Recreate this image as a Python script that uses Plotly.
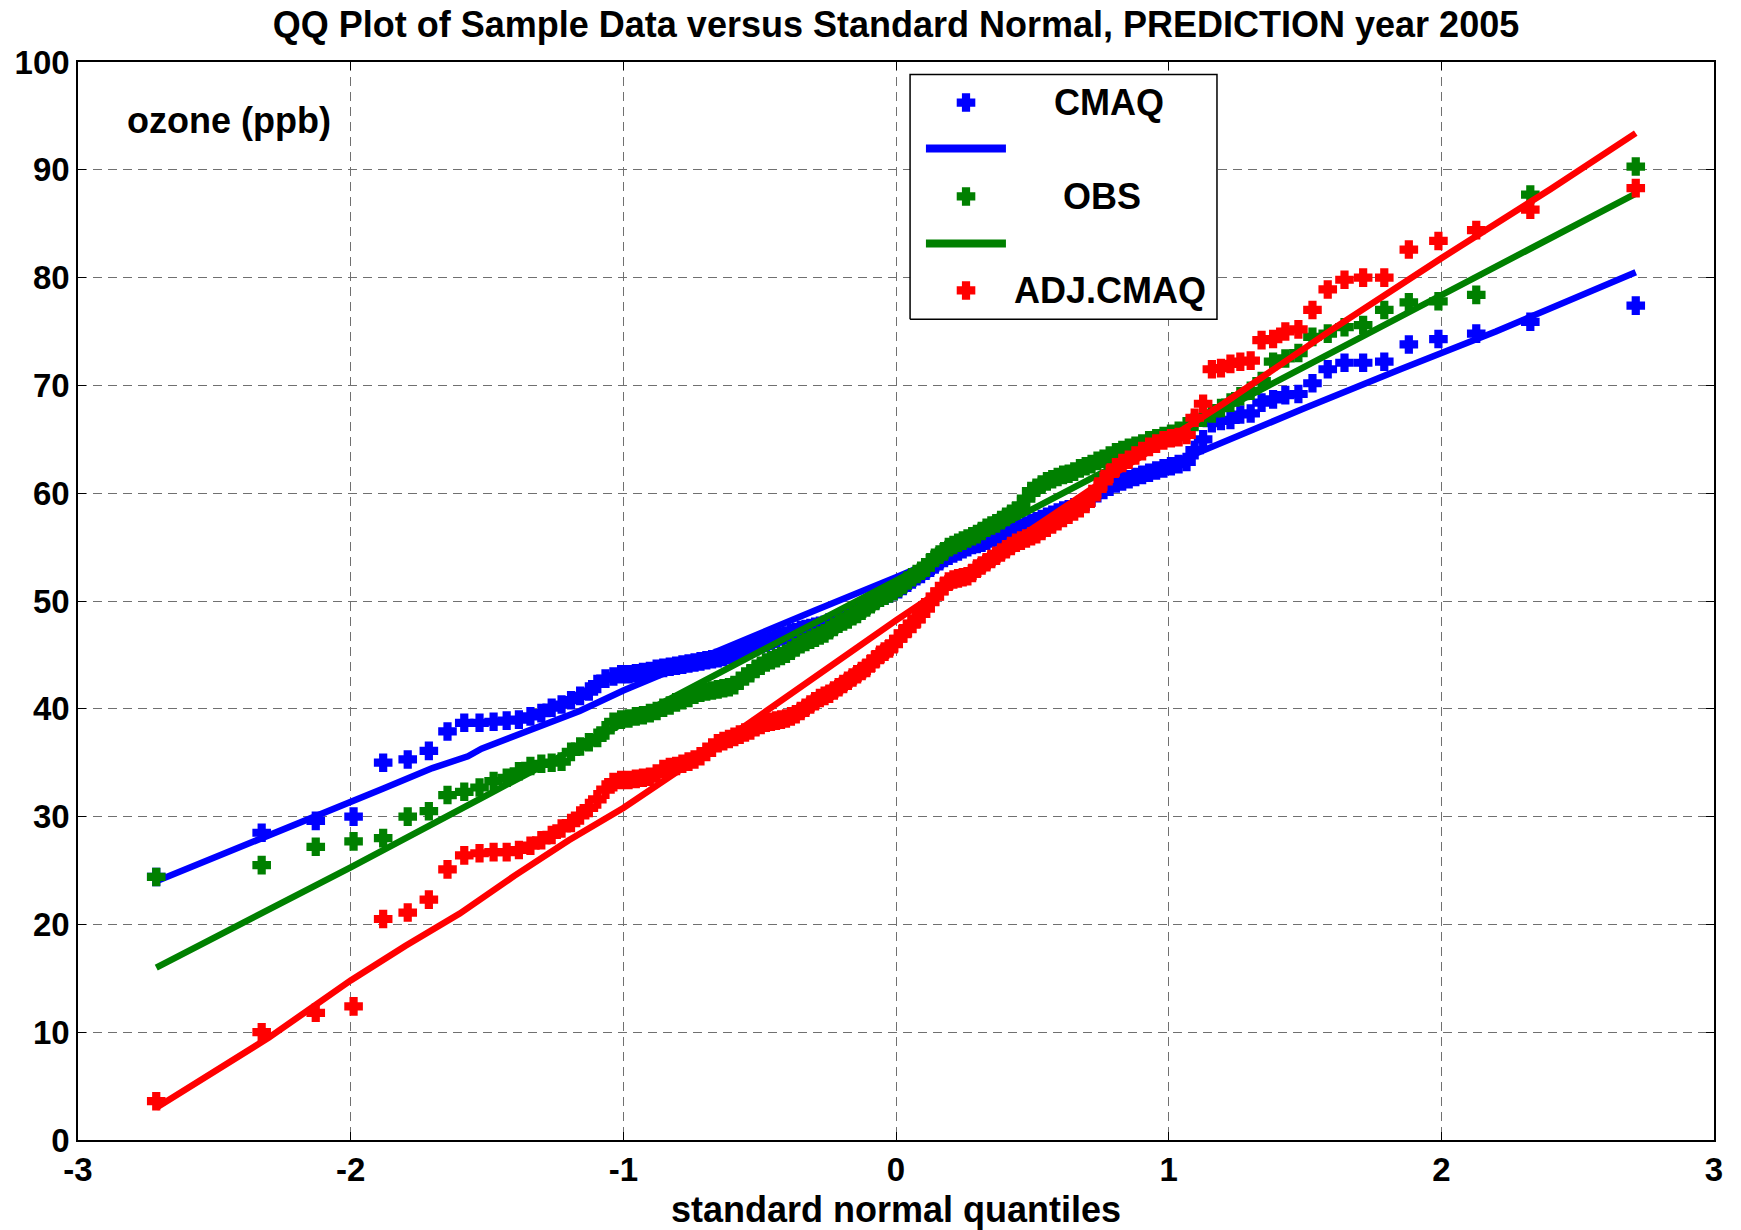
import plotly.graph_objects as go
from statistics import NormalDist

# ---- sorted sample values (150 per series) ----
cmaq = [24.4, 28.5, 29.6, 30.0, 35.0, 35.3, 36.1, 37.9, 38.7, 38.7,
        38.8, 38.9, 39.0, 39.3, 39.6, 40.1, 40.4, 40.8, 41.2, 41.6,
        42.3, 42.8, 43.0, 43.2, 43.2, 43.3, 43.4, 43.5, 43.7, 43.8,
        43.9, 44.0, 44.1, 44.2, 44.3, 44.4, 44.5, 44.6, 44.7, 44.8,
        45.0, 45.1, 45.3, 45.5, 45.6, 45.8, 46.0, 46.1, 46.3, 46.5,
        46.7, 46.8, 47.0, 47.1, 47.3, 47.4, 47.5, 47.6, 47.7, 47.8,
        48.0, 48.1, 48.3, 48.5, 48.8, 49.0, 49.2, 49.4, 49.7, 49.9,
        50.1, 50.3, 50.5, 50.7, 50.9, 51.1, 51.4, 51.7, 52.0, 52.3,
        52.5, 52.8, 53.1, 53.4, 53.7, 54.0, 54.2, 54.4, 54.6, 54.8,
        55.0, 55.2, 55.3, 55.4, 55.6, 55.8, 55.9, 56.1, 56.3, 56.4,
        56.6, 56.8, 57.0, 57.2, 57.4, 57.6, 57.8, 58.0, 58.2, 58.4,
        58.5, 58.7, 58.9, 59.2, 59.6, 60.0, 60.3, 60.6, 60.9, 61.1,
        61.3, 61.5, 61.7, 61.9, 62.1, 62.3, 62.5, 62.7, 62.9, 64.0,
        65.0, 66.5, 66.7, 66.8, 67.3, 67.4, 68.4, 68.7, 69.1, 69.2,
        70.2, 71.5, 72.1, 72.1, 72.2, 73.8, 74.3, 74.8, 75.9, 77.4]

obs = [24.4, 25.5, 27.2, 27.7, 28.0, 30.0, 30.5, 32.0, 32.3, 32.7,
       33.3, 33.6, 34.2, 34.7, 34.9, 35.0, 35.1, 36.0, 36.5, 36.9,
       37.3, 38.0, 38.8, 39.0, 39.1, 39.3, 39.4, 39.6, 39.8, 40.1,
       40.3, 40.6, 40.8, 41.0, 41.3, 41.5, 41.6, 41.7, 41.8, 41.9,
       42.0, 42.2, 42.6, 43.0, 43.3, 43.7, 44.0, 44.3, 44.5, 44.7,
       44.9, 45.1, 45.4, 45.7, 46.0, 46.2, 46.4, 46.6, 46.8, 47.0,
       47.3, 47.6, 47.9, 48.1, 48.3, 48.6, 48.8, 49.1, 49.4, 49.7,
       50.0, 50.3, 50.5, 50.7, 50.9, 51.2, 51.5, 51.9, 52.2, 52.5,
       52.8, 53.1, 53.6, 54.0, 54.3, 54.6, 55.0, 55.2, 55.4, 55.6,
       55.8, 56.0, 56.2, 56.5, 56.8, 57.0, 57.2, 57.5, 57.8, 58.1,
       58.4, 58.8, 59.5, 60.2, 60.5, 60.8, 61.1, 61.3, 61.5, 61.7,
       61.8, 62.0, 62.3, 62.5, 62.7, 63.0, 63.2, 63.5, 63.8, 64.0,
       64.2, 64.4, 64.6, 64.9, 65.1, 65.3, 65.5, 65.8, 66.2, 66.6,
       67.0, 67.4, 67.9, 68.4, 69.0, 69.5, 70.4, 72.2, 72.5, 73.0,
       74.5, 74.8, 75.4, 75.6, 77.0, 77.7, 77.8, 78.4, 87.7, 90.3]

adj_cmaq = [3.6, 10.0, 11.8, 12.4, 20.5, 21.1, 22.3, 25.1, 26.4, 26.6,
            26.7, 26.7, 26.9, 27.3, 27.8, 28.3, 28.9, 29.4, 30.1, 30.8,
            31.6, 32.5, 33.2, 33.4, 33.4, 33.5, 33.6, 33.7, 34.0, 34.4,
            34.6, 34.7, 34.9, 35.1, 35.3, 35.6, 36.0, 36.4, 36.8, 37.0,
            37.2, 37.4, 37.6, 37.8, 38.0, 38.3, 38.5, 38.7, 38.8, 38.9,
            39.0, 39.1, 39.3, 39.5, 39.8, 40.1, 40.4, 40.7, 41.0, 41.2,
            41.4, 41.7, 42.0, 42.3, 42.6, 42.9, 43.2, 43.5, 43.8, 44.2,
            44.6, 45.0, 45.3, 45.6, 46.0, 46.5, 47.0, 47.4, 47.9, 48.3,
            48.8, 49.3, 49.9, 50.4, 50.9, 51.4, 51.8, 52.0, 52.1, 52.2,
            52.3, 52.6, 53.0, 53.3, 53.6, 53.9, 54.2, 54.5, 54.8, 55.1,
            55.4, 55.6, 55.8, 56.0, 56.2, 56.5, 56.8, 57.1, 57.4, 57.7,
            58.0, 58.3, 58.6, 59.0, 59.6, 60.4, 61.1, 61.8, 62.4, 62.8,
            63.1, 63.5, 63.9, 64.3, 64.6, 64.9, 65.1, 65.2, 65.4, 67.0,
            68.3, 71.5, 71.6, 72.0, 72.2, 72.3, 74.2, 74.3, 75.0, 75.2,
            77.0, 78.9, 79.8, 80.0, 80.0, 82.6, 83.4, 84.4, 86.3, 88.3]

# ---- reference lines, knots ----
cmaq_line_x = [-2.713, -2.32, -2.12, -2.0, -1.88, -1.70, -1.57, -1.52, -1.41, -1.33,
               -1.16, -1.0, -0.6, -0.3, 0.0, 0.3, 0.6, 0.9, 1.2, 1.5, 1.85, 2.2, 2.713]
cmaq_line_y = [24.0, 28.0, 30.0, 31.3, 32.6, 34.5, 35.6, 36.3, 37.4, 38.2,
               39.8, 41.7, 46.0, 49.1, 52.2, 55.4, 58.4, 61.6, 64.7, 67.9, 71.5, 75.0, 80.5]
obs_line_x = [-2.713, -2.0, -1.5, -1.0, -0.5, 0.0, 0.5, 1.0, 1.5, 2.0, 2.713]
obs_line_y = [16.0, 25.3, 32.0, 38.7, 45.3, 51.9, 58.5, 65.1, 71.7, 78.4, 87.8]
adj_line_x = [-2.713, -2.3, -2.0, -1.8, -1.6, -1.5, -1.4, -1.2, -1.0, -0.6,
              -0.3, 0.0, 0.4, 0.8, 1.2, 1.6, 2.0, 2.4, 2.713]
adj_line_y = [3.0, 9.5, 14.8, 18.0, 21.0, 22.8, 24.5, 27.8, 30.8, 37.6,
              42.9, 48.2, 55.0, 61.8, 68.3, 75.2, 81.8, 88.2, 93.4]

x_ticks = [-3, -2, -1, 0, 1, 2, 3]
y_ticks = [0, 10, 20, 30, 40, 50, 60, 70, 80, 90, 100]
series_names = ["CMAQ", "OBS", "ADJ.CMAQ"]
colors = ["#0000ff", "#008000", "#ff0000"]

# standard normal quantiles of the plotting positions (i-0.5)/n
n = len(cmaq)
nd = NormalDist()
qx = [nd.inv_cdf((i + 0.5) / n) for i in range(n)]

FONT = "Liberation Sans, Arial, Helvetica, sans-serif"
MS = 13
MLW = 3
LW = 6.5

fig = go.Figure()
pairs = [(cmaq, cmaq_line_x, cmaq_line_y), (obs, obs_line_x, obs_line_y),
         (adj_cmaq, adj_line_x, adj_line_y)]
for (vals, lx, ly), c in zip(pairs, colors):
    fig.add_trace(go.Scatter(x=qx, y=vals, mode="markers", showlegend=False,
                             marker=dict(symbol="cross", size=MS, color=c,
                                         line=dict(color=c, width=MLW))))
    fig.add_trace(go.Scatter(x=lx, y=ly, mode="lines", showlegend=False,
                             line=dict(color=c, width=LW)))

# ---- custom legend (overlay axes in paper-like units) ----
bx0, bx1, by0, by1 = 0.5086, 0.6962, 0.7613, 0.9884
fig.add_trace(go.Scatter(x=[bx0, bx1, bx1, bx0, bx0], y=[by0, by0, by1, by1, by0],
                         mode="lines", fill="toself", fillcolor="white",
                         line=dict(color="black", width=1.5), showlegend=False,
                         xaxis="x2", yaxis="y2", hoverinfo="skip"))
mk_y = [0.9624, 0.8753, 0.7881]
ln_y = [0.9198, 0.8317]
for k, c in enumerate(colors):
    fig.add_trace(go.Scatter(x=[0.5428], y=[mk_y[k]], mode="markers", showlegend=False,
                             marker=dict(symbol="cross", size=MS, color=c,
                                         line=dict(color=c, width=MLW)),
                             xaxis="x2", yaxis="y2"))
    if k < 2:
        fig.add_trace(go.Scatter(x=[0.5183, 0.5672], y=[ln_y[k], ln_y[k]], mode="lines",
                                 showlegend=False, line=dict(color=c, width=8),
                                 xaxis="x2", yaxis="y2"))
text_x = [0.6302, 0.6259, 0.6308]
for k, name in enumerate(series_names):
    fig.add_annotation(x=text_x[k], y=mk_y[k], xref="paper", yref="paper",
                       text=name, showarrow=False, xanchor="center", yanchor="middle",
                       font=dict(family=FONT, size=36, color="black", weight="bold"))

fig.add_annotation(x=0.0287, y=0.9458, xref="paper", yref="paper", text="ozone (ppb)",
                   showarrow=False, xanchor="left", yanchor="middle",
                   font=dict(family=FONT, size=36, color="black", weight="bold"))
fig.add_annotation(x=0.5, y=-0.0649, xref="paper", yref="paper",
                   text="standard normal quantiles", showarrow=False,
                   xanchor="center", yanchor="middle",
                   font=dict(family=FONT, size=36, color="black", weight="bold"))

axis_common = dict(showline=True, linecolor="black", linewidth=1.5, mirror="ticks",
                   ticks="inside", ticklen=8, tickcolor="black", tickwidth=1,
                   showgrid=True, gridcolor="#707070", gridwidth=1, griddash="9px,6px",
                   zeroline=False,
                   tickfont=dict(family=FONT, size=33, color="black", weight="bold"))

fig.update_layout(
    width=1741, height=1230,
    margin=dict(l=78, r=27, t=62, b=90),
    paper_bgcolor="white", plot_bgcolor="white",
    title=dict(text="QQ Plot of Sample Data versus Standard Normal, PREDICTION year 2005",
               xref="paper", x=0.5, xanchor="center", y=0.980, yanchor="middle",
               font=dict(family=FONT, size=36, color="black", weight="bold")),
    xaxis=dict(range=[-3, 3], tickvals=x_ticks, ticktext=[str(v) for v in x_ticks],
               **axis_common),
    yaxis=dict(range=[0, 100], tickvals=y_ticks, ticktext=[str(v) for v in y_ticks],
               **axis_common),
    xaxis2=dict(overlaying="x", anchor="y2", range=[0, 1], visible=False, fixedrange=True),
    yaxis2=dict(overlaying="y", anchor="x2", range=[0, 1], visible=False, fixedrange=True),
)

fig.write_html("out.html")
